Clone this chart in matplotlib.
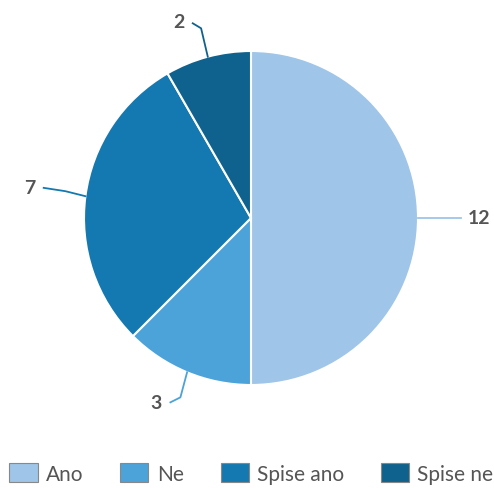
import matplotlib

matplotlib.use("Agg")
import matplotlib.pyplot as plt
import numpy as np
from matplotlib.patches import Patch

labels = ["Ano", "Ne", "Spise ano", "Spise ne"]
values = [12, 3, 7, 2]
colors = ["#9fc5e8", "#4ba3d9", "#1479b1", "#0f628d"]

plt.rcParams["font.family"] = ["Lato", "DejaVu Sans"]

fig = plt.figure(figsize=(4.94, 4.89), dpi=100)
# axes fill the figure; one data unit == pie radius (167 px)
ax = fig.add_axes([0, 0, 1, 1])
R = 167.0

wedges, _ = ax.pie(values, colors=colors, startangle=90, counterclock=False,
                   radius=1.0, wedgeprops=dict(edgecolor="white", linewidth=1.5))
ax.set_xlim(-251 / R, (494 - 251) / R)
ax.set_ylim((219 - 489) / R, 219 / R)
ax.set_aspect("equal")
ax.axis("off")

# leader lines: (elbow offset, end offset, text offset) relative to the edge point, in radius units
leaders = {
    0: [(0.0, 0.0), (0.26, 0.0), (0.30, 0.0)],
    1: [(-0.04, -0.15), (-0.10, -0.18), (-0.15, -0.18)],
    2: [(-0.12, 0.03), (-0.25, 0.05), (-0.30, 0.05)],
    3: [(-0.04, 0.17), (-0.09, 0.20), (-0.14, 0.21)],
}
for i, w in enumerate(wedges):
    mid = np.deg2rad((w.theta1 + w.theta2) / 2)
    x0, y0 = np.cos(mid), np.sin(mid)
    (ex, ey), (fx, fy), (tx, ty) = leaders[i]
    ax.plot([x0, x0 + ex, x0 + fx], [y0, y0 + ey, y0 + fy], color=colors[i], lw=1.3,
            solid_joinstyle="round")
    ha = "left" if tx > 0 else "right"
    ax.text(x0 + tx, y0 + ty, str(values[i]), ha=ha, va="center", fontsize=14,
            fontweight="bold", color="#555555")

handles = [Patch(facecolor=c, edgecolor="#888888", linewidth=0.8) for c in colors]
fig.legend(handles, labels, loc="lower center", ncol=4, frameon=False,
           bbox_to_anchor=(0.509, -0.03), fontsize=15, handlelength=1.35, handleheight=1.05,
           handletextpad=0.4, columnspacing=1.77, labelcolor="#555555")

fig.savefig("out.png", dpi=100)
